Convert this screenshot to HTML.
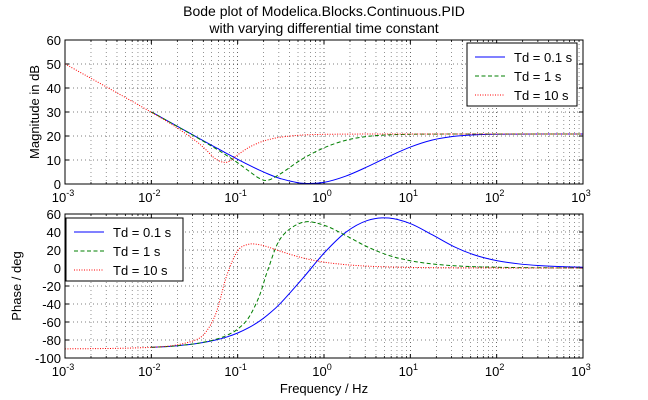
<!DOCTYPE html>
<html><head><meta charset="utf-8"><style>
html,body{margin:0;padding:0;background:#fff}
svg{display:block;font-family:"Liberation Sans",sans-serif}
</style></head><body>
<svg id="chart" width="648" height="400" viewBox="0 0 648 400" xmlns="http://www.w3.org/2000/svg">
<rect width="648" height="400" fill="#fff"/>
<text x="324" y="16" text-anchor="middle" font-size="14">Bode plot of Modelica.Blocks.Continuous.PID</text>
<text x="324" y="33" text-anchor="middle" font-size="14">with varying differential time constant</text>
<g id="top"></g>
<g id="bot"></g>
<text transform="translate(39,112) rotate(-90)" text-anchor="middle" font-size="13">Magnitude in dB</text>
<text transform="translate(21,286) rotate(-90)" text-anchor="middle" font-size="13">Phase / deg</text>
<text x="324" y="393" text-anchor="middle" font-size="13">Frequency / Hz</text>
</svg>
<script>
const freq=[0.001,0.001778,0.003162,0.005623,0.01,0.01778,0.03162,0.04217,0.05623,0.07499,0.1,0.13335,0.1778,0.2239,0.3162,0.5623,1,1.778,3.162,5.623,10,17.78,31.62,56.23,100,177.8,316.2,562.3,1000];
const magTd01=[50.06,45.06,40.06,35.06,30.06,25.07,20.08,17.60,15.14,12.70,10.31,8.00,5.82,4.23,2.20,0.30,0.70,3.26,7.15,11.45,15.40,18.29,19.85,20.49,20.72,20.79,20.82,20.83,20.83];
const magTd1=[50.06,45.06,40.06,35.06,30.05,25.02,19.93,17.33,14.65,11.84,8.82,5.52,2.39,1.55,4.35,10.45,15.08,18.19,19.82,20.48,20.72,20.79,20.82,20.83,20.83,20.83,20.83,20.83,20.83];
const magTd10=[50.06,45.05,40.04,35.01,29.89,24.53,18.35,14.54,10.33,9.08,12.15,15.14,17.25,18.41,19.53,20.39,20.69,20.78,20.82,20.83,20.83,20.83,20.83,20.83,20.83,20.83,20.83,20.83,20.83];
const phTd01=[-89.82,-89.68,-89.43,-88.99,-88.2,-86.8,-84.3,-82.4,-79.9,-76.6,-72.2,-66.5,-59.2,-52.0,-38.8,-11.9,16.5,39.5,52.7,55.6,49.4,37.1,24.0,14.3,8.2,4.65,2.62,1.47,0.83];
const phTd1=[-89.82,-89.68,-89.43,-88.99,-88.2,-86.8,-84.2,-82.1,-79.2,-74.8,-67.9,-55.5,-31.4,-2.0,33.3,50.7,47.5,36.2,23.6,14.0,8.05,4.55,2.57,1.44,0.83,0.47,0.26,0.15,0.08];
const phTd10=[-89.82,-89.68,-89.43,-88.97,-88.1,-86.2,-80.4,-71.9,-50.0,-7.9,19.0,26.3,25.9,23.4,18.5,11.3,6.55,3.71,2.09,1.18,0.66,0.37,0.21,0.12,0.07,0.04,0.02,0.01,0.01];
const xTickExp=[-3,-2,-1,0,1,2,3];
const magTicks=[0,10,20,30,40,50,60];
const phTicks=[-100,-80,-60,-40,-20,0,20,40,60];
const seriesNames=["Td = 0.1 s","Td = 1 s","Td = 10 s"];

const NS="http://www.w3.org/2000/svg";
const L=65,R=583;
function X(f){return L+(Math.log10(f)+3)/6*(R-L);}
function mk(tag,attrs,parent){const e=document.createElementNS(NS,tag);for(const k in attrs)e.setAttribute(k,attrs[k]);parent.appendChild(e);return e;}
function path(xs,ys){let pts=xs.map((x,i)=>[x,ys[i]]);let d="M"+pts[0][0].toFixed(2)+","+pts[0][1].toFixed(2);
 for(let i=0;i<pts.length-1;i++){const p0=pts[Math.max(0,i-1)],p1=pts[i],p2=pts[i+1],p3=pts[Math.min(pts.length-1,i+2)];
  const c1=[p1[0]+(p2[0]-p0[0])/6,p1[1]+(p2[1]-p0[1])/6],c2=[p2[0]-(p3[0]-p1[0])/6,p2[1]-(p3[1]-p1[1])/6];
  d+=" C"+c1[0].toFixed(2)+","+c1[1].toFixed(2)+" "+c2[0].toFixed(2)+","+c2[1].toFixed(2)+" "+p2[0].toFixed(2)+","+p2[1].toFixed(2);}
 return d;}
function axes(g,T,B,ymin,ymax,ticks,series,legend,tickY){
 const Y=v=>B-(v-ymin)/(ymax-ymin)*(B-T);
 for(let e=-3;e<3;e++)for(let m=2;m<=9;m++){const x=X(m*Math.pow(10,e));
  const l=mk('line',{x1:x,x2:x,y1:T,y2:B,stroke:'#000','stroke-width':0.6,'stroke-dasharray':'1,3',opacity:0.7},g);
  
  mk('line',{x1:x,x2:x,y1:B,y2:B-2,stroke:'#000','stroke-width':0.8},g);mk('line',{x1:x,x2:x,y1:T,y2:T+2,stroke:'#000','stroke-width':0.8},g);}
 xTickExp.forEach(e=>{const x=X(Math.pow(10,e));
  const l=mk('line',{x1:x,x2:x,y1:T,y2:B,stroke:'#000','stroke-width':0.6,'stroke-dasharray':'1,3'},g);
  
  mk('line',{x1:x,x2:x,y1:B,y2:B-4,stroke:'#000'},g);mk('line',{x1:x,x2:x,y1:T,y2:T+4,stroke:'#000'},g);
  const t=mk('text',{x:x-2,y:tickY,'text-anchor':'middle','font-size':13},g);
  
  t.textContent='10';const s=mk('tspan',{dy:-6,'font-size':9},t);s.textContent=String(e);});
 ticks.forEach(v=>{const y=Y(v);
  const l=mk('line',{x1:L,x2:R,y1:y,y2:y,stroke:'#000','stroke-width':0.6,'stroke-dasharray':'1,3'},g);
  
  mk('line',{x1:L,x2:L+4,y1:y,y2:y,stroke:'#000'},g);mk('line',{x1:R,x2:R-4,y1:y,y2:y,stroke:'#000'},g);
  const t=mk('text',{x:L-4,y:y+5,'text-anchor':'end','font-size':13},g);
  t.textContent=String(v);});
 const cp='c'+T;const cl=mk('clipPath',{id:cp},g);mk('rect',{x:L,y:T,width:R-L,height:B-T},cl);
 const styles=[{c:'#0000ff',d:''},{c:'#007f00',d:'4,2.5'},{c:'#ff0000',d:'1,1.5'}];
 series.forEach((s,i)=>{const start=i<2?4:0;const xs=freq.slice(start).map(X),ys=s.slice(start).map(Y);
  const p=mk('path',{d:path(xs,ys),fill:'none',stroke:styles[i].c,'stroke-width':1,'stroke-dasharray':styles[i].d,'clip-path':'url(#'+cp+')'},g);
  });
 const fr=mk('rect',{x:L,y:T,width:R-L,height:B-T,fill:'none',stroke:'#000','stroke-width':1},g);
 
 const lg=mk('g',{},g);
 mk('rect',{x:legend.x,y:legend.y,width:legend.w,height:63,fill:'#fff',stroke:'#000','stroke-width':1},lg);
 seriesNames.forEach((n,i)=>{const yy=legend.y+14+i*19;
  mk('line',{x1:legend.x+8,x2:legend.x+38,y1:yy,y2:yy,stroke:styles[i].c,'stroke-dasharray':styles[i].d},lg);
  const t=mk('text',{x:legend.x+47,y:yy+5,'font-size':13},lg);
  t.textContent=n;});
}
axes(document.getElementById('top'),40,184,0,60,magTicks,[magTd01,magTd1,magTd10],{x:467,y:43,w:110},202);
axes(document.getElementById('bot'),214,358,-100,60,phTicks,[phTd01,phTd1,phTd10],{x:66,y:218,w:117},376);
</script>
</body></html>
